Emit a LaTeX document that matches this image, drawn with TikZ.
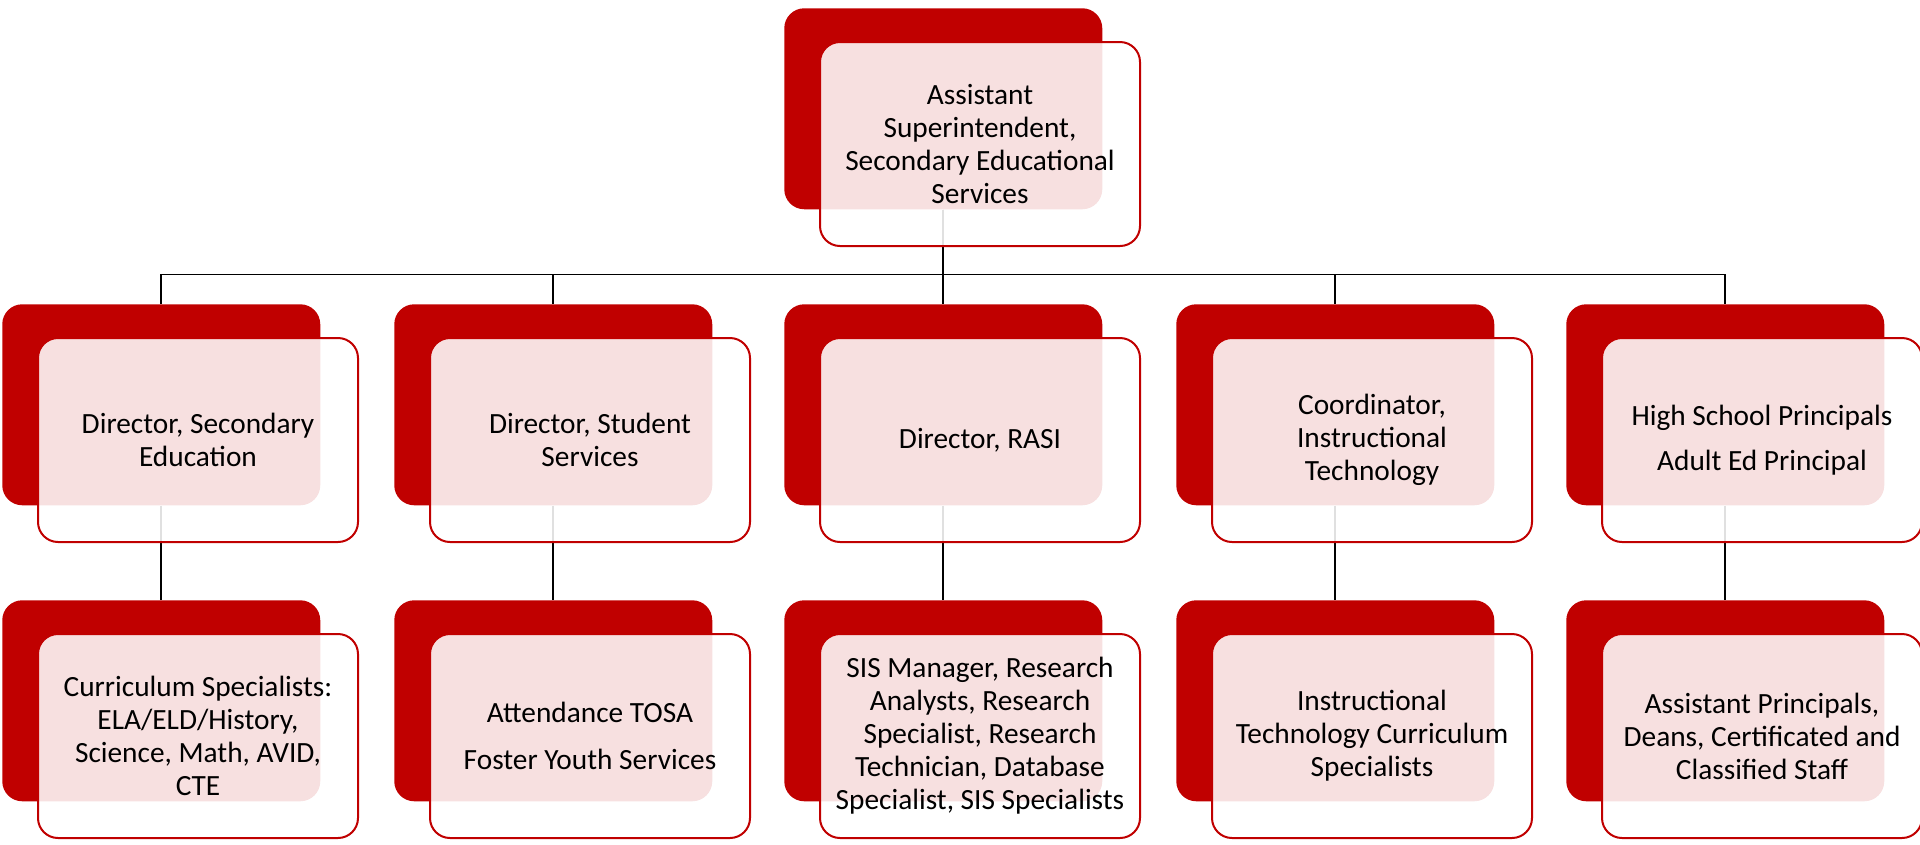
\documentclass[tikz,border=0pt]{standalone}
\usepackage{fontspec}
\setmainfont{Carlito}
\definecolor{boxred}{HTML}{C00000}
\tikzset{
  backbox/.style={fill=boxred, draw=none, rounded corners=15pt, anchor=north west,
    minimum width=238.5pt, minimum height=150.75pt, inner sep=0pt},
  frontbox/.style={fill=white, fill opacity=0.88, text opacity=1, draw=boxred, line width=1.5pt,
    rounded corners=15pt, anchor=north west, minimum width=240pt, minimum height=153pt,
    inner sep=0pt, align=center, font=\fontsize{22}{24.75}\selectfont},
  link/.style={draw=black, line width=1.4pt}
}
\begin{document}
\begin{tikzpicture}[x=0.75pt, y=-0.75pt]
\useasboundingbox (0,0) rectangle (1920,844);
% back boxes
\node[backbox] (top) at (784,8) {};
\node[backbox] (d1) at (2,304) {};
\node[backbox] (d2) at (394,304) {};
\node[backbox] (d3) at (784,304) {};
\node[backbox] (d4) at (1176,304) {};
\node[backbox] (d5) at (1566,304) {};
\node[backbox] (s1) at (2,600) {};
\node[backbox] (s2) at (394,600) {};
\node[backbox] (s3) at (784,600) {};
\node[backbox] (s4) at (1176,600) {};
\node[backbox] (s5) at (1566,600) {};
% connectors
\foreach \c in {d1,d2,d3,d4,d5}{
  \draw[link] (top.south) -- ++(0,65) -| (\c.north);
}
\draw[link] (d1.south) -- (s1.north);
\draw[link] (d2.south) -- (s2.north);
\draw[link] (d3.south) -- (s3.north);
\draw[link] (d4.south) -- (s4.north);
\draw[link] (d5.south) -- (s5.north);
% front boxes
\node[frontbox] (topf) at (819,41) {Assistant\\Superintendent,\\Secondary Educational\\Services};
\node[frontbox] (d1f) at (37,337) {Director, Secondary\\Education};
\node[frontbox] (d2f) at (429,337) {Director, Student\\Services};
\node[frontbox] (d3f) at (819,337) {Director, RASI};
\node[frontbox] (d4f) at (1211,337) {Coordinator,\\Instructional\\Technology};
\node[frontbox] (d5f) at (1601,337) {High School Principals\\[9pt]Adult Ed Principal};
\node[frontbox] (s1f) at (37,633) {Curriculum Specialists:\\ELA/ELD/History,\\Science, Math, AVID,\\CTE};
\node[frontbox] (s2f) at (429,633) {Attendance TOSA\\[10pt]Foster Youth Services};
\node[frontbox] (s3f) at (819,633) {SIS Manager, Research\\Analysts, Research\\Specialist, Research\\Technician, Database\\Specialist, SIS Specialists};
\node[frontbox] (s4f) at (1211,633) {Instructional\\Technology Curriculum\\Specialists};
\node[frontbox] (s5f) at (1601,633) {Assistant Principals,\\Deans, Certificated and\\Classified Staff};
\end{tikzpicture}
\end{document}
